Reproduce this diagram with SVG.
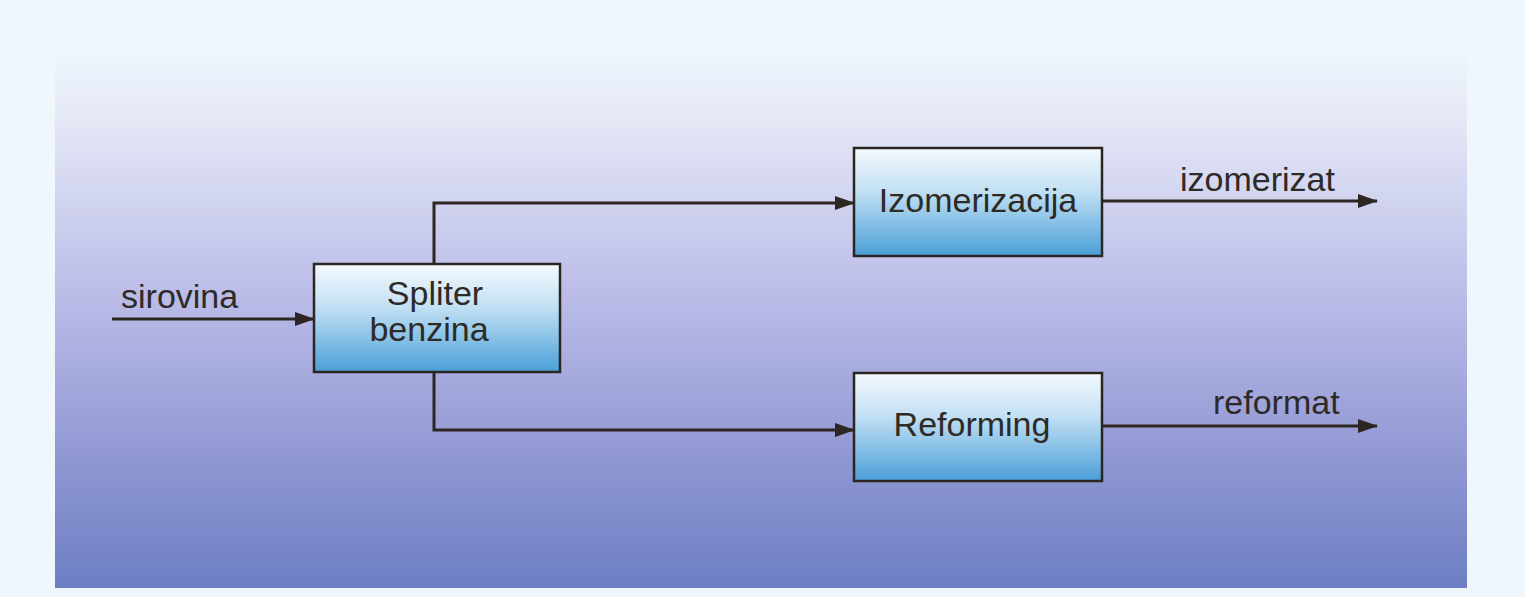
<svg xmlns="http://www.w3.org/2000/svg" width="1525" height="597" viewBox="0 0 1525 597">
<style>
.box{stroke:#2b2622;stroke-width:2.5;fill:url(#boxg)}
.lbl{font-family:"Liberation Sans",Arial,sans-serif;font-size:34px;fill:#2e2a26}
.mid{text-anchor:middle}
.con{fill:none;stroke:#2e2622;stroke-width:3;marker-end:url(#arr)}
</style>
<defs>
<linearGradient id="bg" x1="0" y1="0" x2="0" y2="1">
<stop offset="0" stop-color="#eef5fc"/>
<stop offset="0.12" stop-color="#e4e8f6"/>
<stop offset="0.45" stop-color="#bbbce8"/>
<stop offset="0.75" stop-color="#9198d3"/>
<stop offset="1" stop-color="#6c7ec3"/>
</linearGradient>
<linearGradient id="boxg" x1="0" y1="0" x2="0" y2="1">
<stop offset="0" stop-color="#f4f9fd"/>
<stop offset="0.4" stop-color="#c2e0f4"/>
<stop offset="1" stop-color="#4a9fd8"/>
</linearGradient>
<marker id="arr" markerWidth="20" markerHeight="14" refX="19" refY="7" orient="auto" markerUnits="userSpaceOnUse">
<path d="M0,0 L20,7 L0,14 Z" fill="#2e2622"/>
</marker>
</defs>
<rect x="0" y="0" width="1525" height="597" fill="#eff6fc"/>
<rect x="55" y="55" width="1412" height="533" fill="url(#bg)"/>
<g id="connectors">
<line class="con" x1="112" y1="319" x2="314" y2="319"/>
<polyline class="con" points="434,264 434,203 854,203"/>
<polyline class="con" points="434,372 434,430 854,430"/>
<line class="con" x1="1102" y1="201" x2="1377" y2="201"/>
<line class="con" x1="1102" y1="426" x2="1377" y2="426"/>
</g>
<g id="node-spliter">
<rect class="box" x="314" y="264" width="246" height="108"/>
<text class="lbl mid" x="435" y="305">Spliter</text>
<text class="lbl mid" x="429" y="341">benzina</text>
</g>
<g id="node-izomerizacija">
<rect class="box" x="854" y="148" width="248" height="108"/>
<text class="lbl mid" x="978" y="212">Izomerizacija</text>
</g>
<g id="node-reforming">
<rect class="box" x="854" y="373" width="248" height="108"/>
<text class="lbl mid" x="972" y="436">Reforming</text>
</g>
<g id="labels">
<text class="lbl" x="121" y="308">sirovina</text>
<text class="lbl" x="1180" y="191">izomerizat</text>
<text class="lbl" x="1213" y="414">reformat</text>
</g>
</svg>
